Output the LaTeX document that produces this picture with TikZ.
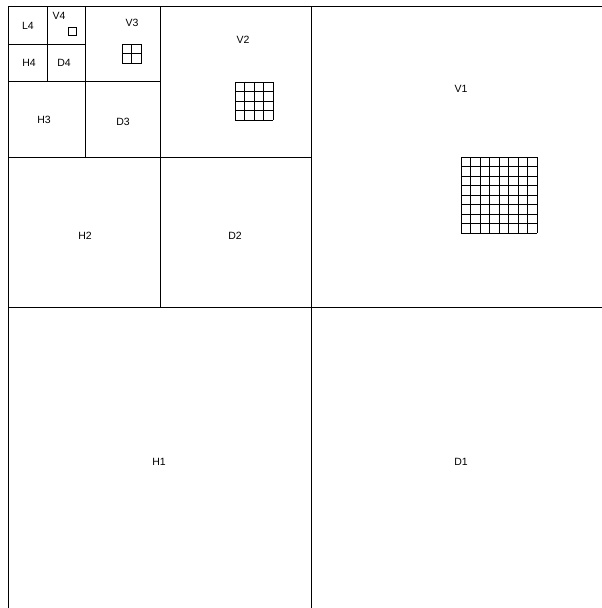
\documentclass[tikz,border=0pt]{standalone}
\usepackage{fontspec}
\setmainfont{Liberation Sans}
\begin{document}
\begin{tikzpicture}[x=1pt,y=-1pt,
  edge/.style={line width=0.9pt,black},
  cellgrid/.style={line width=0.8pt,black},
  lbl/.style={font=\fontsize{10.5}{12}\selectfont,inner sep=0pt}]
\useasboundingbox (0,0) rectangle (602,608);
% partition lines
\draw[edge] (8.5,608) -- (8.5,6) -- (602,6);
\draw[edge] (311,6) -- (311,608);
\draw[edge] (8.5,307) -- (602,307);
\draw[edge] (160,6) -- (160,307);
\draw[edge] (8.5,157) -- (311,157);
\draw[edge] (85,6) -- (85,157);
\draw[edge] (8.5,81) -- (160,81);
\draw[edge] (47,6) -- (47,81);
\draw[edge] (8.5,44) -- (85,44);
% labels
\node[lbl] (L4) at (28,26) {L4};
\node[lbl] (V4) at (59,16) {V4};
\node[lbl] (H4) at (29,63) {H4};
\node[lbl] (D4) at (64,63) {D4};
\node[lbl] (V3) at (132,23) {V3};
\node[lbl] (H3) at (44,120) {H3};
\node[lbl] (D3) at (123,122) {D3};
\node[lbl] (V2) at (243,40) {V2};
\node[lbl] (H2) at (85,236) {H2};
\node[lbl] (D2) at (235,236) {D2};
\node[lbl] (V1) at (461,89) {V1};
\node[lbl] (H1) at (159,462) {H1};
\node[lbl] (D1) at (461,462) {D1};
% coefficient grids
\draw[cellgrid] (68,27) rectangle (76,35);
\foreach \i in {0,...,2}{
  \draw[cellgrid] (122+9.75*\i,44) -- (122+9.75*\i,63.5);
  \draw[cellgrid] (122,44+9.75*\i) -- (141.5,44+9.75*\i);}
\foreach \i in {0,...,4}{
  \draw[cellgrid] (235+9.5*\i,82) -- (235+9.5*\i,120);
  \draw[cellgrid] (235,82+9.5*\i) -- (273,82+9.5*\i);}
\foreach \i in {0,...,8}{
  \draw[cellgrid] (461+9.5*\i,157) -- (461+9.5*\i,233);
  \draw[cellgrid] (461,157+9.5*\i) -- (537,157+9.5*\i);}
\end{tikzpicture}
\end{document}
